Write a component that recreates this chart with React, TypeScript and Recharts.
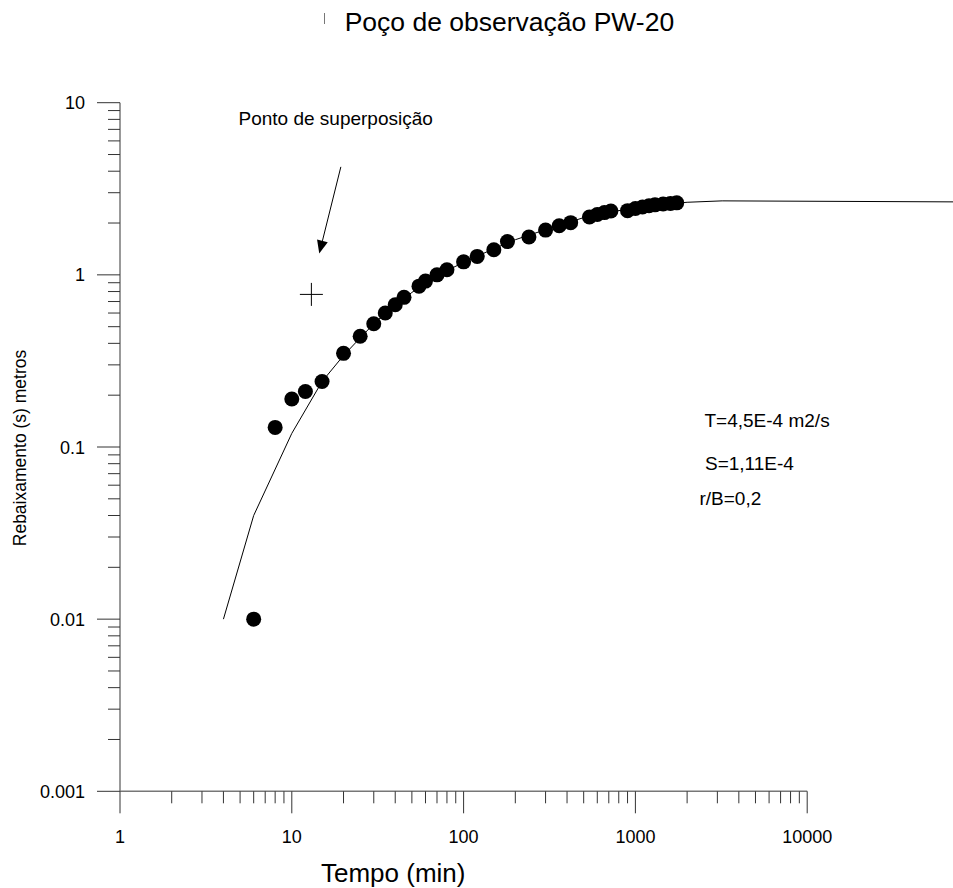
import React from 'react';
import { ComposedChart, Scatter, XAxis, YAxis, ReferenceLine } from 'recharts';

// Theoretical (Hantush) type curve
const curveTimes = [4, 6, 10, 15, 20, 25, 30, 40, 50, 60, 80, 100, 150, 200, 300, 500, 700, 1000, 1500, 2000, 3200, 100000];
const curveDrawdowns = [0.01, 0.04, 0.12, 0.24, 0.34, 0.43, 0.52, 0.67, 0.79, 0.9, 1.06, 1.18, 1.42, 1.6, 1.83, 2.15, 2.32, 2.43, 2.58, 2.64, 2.69, 2.65];

// Observed drawdowns, well PW-20
const obsTimes = [6, 8, 10, 12, 15, 20, 25, 30, 35, 40, 45, 55, 60, 70, 80, 100, 120, 150, 180, 240, 300, 360, 420, 540, 600, 660, 720, 900, 1000, 1100, 1200, 1300, 1450, 1600, 1740];
const obsDrawdowns = [0.01, 0.13, 0.19, 0.21, 0.24, 0.35, 0.44, 0.52, 0.6, 0.67, 0.74, 0.86, 0.92, 1.0, 1.07, 1.19, 1.28, 1.4, 1.56, 1.66, 1.82, 1.93, 2.01, 2.17, 2.24, 2.3, 2.35, 2.36, 2.43, 2.48, 2.52, 2.55, 2.58, 2.6, 2.62];

// Match point and arrow
const matchTime = [13];
const matchDrawdown = [0.77];
const arrowTimes = [19.3, 14.45];
const arrowDrawdowns = [4.24, 1.33];

const xMajorTicks = [1, 10, 100, 1000, 10000];
const yMajorTicks = [0.001, 0.01, 0.1, 1, 10];
const minorMultipliers = [2, 3, 4, 5, 6, 7, 8, 9];

const titleText = 'Poço de observação PW-20';
const xLabel = 'Tempo (min)';
const yLabel = 'Rebaixamento (s) metros';
const annotationText = 'Ponto de superposição';
const paramTexts = ['T=4,5E-4 m2/s', 'S=1,11E-4', 'r/B=0,2'];

const curveData = curveTimes.map((t, i) => ({ t, s: curveDrawdowns[i] }));
const obsData = obsTimes.map((t, i) => ({ t, s: obsDrawdowns[i] }));
const matchData = matchTime.map((t, i) => ({ t, s: matchDrawdown[i] }));

const buildTicks = (majors: number[]) => {
  const out: number[] = [];
  majors.forEach((m, i) => {
    out.push(m);
    if (i < majors.length - 1) minorMultipliers.forEach((k) => out.push(parseFloat((m * k).toPrecision(6))));
  });
  return out;
};
const xTicks = buildTicks(xMajorTicks);
const yTicks = buildTicks(yMajorTicks);

const isMajor = (v: number) => {
  const l = Math.log10(v);
  return Math.abs(l - Math.round(l)) < 1e-9;
};

const FONT = '"Liberation Sans", Arial, Helvetica, sans-serif';

const XTick = (props: any) => {
  const { x, y, payload } = props;
  const v = payload.value;
  const major = isMajor(v);
  return (
    <g>
      <line x1={x} y1={y} x2={x} y2={y + (major ? 22 : 12)} stroke="#333" strokeWidth={1} />
      {major && (
        <text x={x} y={y + 51.5} textAnchor="middle" fontSize={18} fill="#000" fontFamily={FONT}>
          {String(v)}
        </text>
      )}
    </g>
  );
};

const YTick = (props: any) => {
  const { x, y, payload } = props;
  const v = payload.value;
  const major = isMajor(v);
  return (
    <g>
      <line x1={x - (major ? 23 : 12)} y1={y} x2={x} y2={y} stroke="#333" strokeWidth={1} />
      {major && (
        <text x={x - 35} y={y + 6.5} textAnchor="end" fontSize={18} fill="#000" fontFamily={FONT}>
          {String(v)}
        </text>
      )}
    </g>
  );
};

const Dot = (props: any) => <circle cx={props.cx} cy={props.cy} r={7.5} fill="#000" />;
const Cross = (props: any) => (
  <g>
    <line x1={props.cx - 11.5} y1={props.cy} x2={props.cx + 11.5} y2={props.cy} stroke="#000" strokeWidth={1} />
    <line x1={props.cx} y1={props.cy - 11.5} x2={props.cx} y2={props.cy + 11.5} stroke="#000" strokeWidth={1} />
  </g>
);
const Nothing = () => <g />;

const ArrowShape = (props: any) => {
  const { x1, y1, x2, y2 } = props;
  const dx = x2 - x1;
  const dy = y2 - y1;
  const len = Math.sqrt(dx * dx + dy * dy) || 1;
  const ux = dx / len;
  const uy = dy / len;
  const hl = 13;
  const hw = 5.5;
  const bx = x2 - ux * hl;
  const by = y2 - uy * hl;
  const pts = `${x2},${y2} ${bx - uy * hw},${by + ux * hw} ${bx + uy * hw},${by - ux * hw}`;
  return (
    <g>
      <line x1={x1} y1={y1} x2={bx} y2={by} stroke="#000" strokeWidth={1} />
      <polygon points={pts} fill="#000" />
    </g>
  );
};

export default function App() {
  return (
    <div style={{ position: 'absolute', left: 0, top: 0, width: 953, height: 888, overflow: 'hidden', background: '#fff' }}>
      <ComposedChart
        width={1000}
        height={888}
        margin={{ top: 102.7, right: 21, bottom: 95.7, left: 119 }}
        style={{ fontFamily: FONT }}
      >
        <XAxis
          dataKey="t"
          type="number"
          scale="log"
          domain={[1, 100000]}
          allowDataOverflow
          ticks={xTicks}
          interval={0}
          tick={XTick}
          tickSize={0}
          tickMargin={0}
          tickLine={false}
          axisLine={false}
          height={1}
        />
        <YAxis
          dataKey="s"
          type="number"
          scale="log"
          domain={[0.001, 10]}
          allowDataOverflow
          ticks={yTicks}
          interval={0}
          tick={YTick}
          tickSize={0}
          tickMargin={0}
          tickLine={false}
          axisLine={{ stroke: '#777', strokeWidth: 1.5 }}
          width={1}
        />
        <ReferenceLine
          segment={[{ x: xMajorTicks[0], y: yMajorTicks[0] }, { x: xMajorTicks[xMajorTicks.length - 1], y: yMajorTicks[0] }]}
          stroke="#777"
          strokeWidth={1.5}
          ifOverflow="visible"
        />
        <Scatter data={curveData} dataKey="s" line={{ stroke: '#000', strokeWidth: 1 }} shape={Nothing} isAnimationActive={false} />
        <Scatter data={obsData} dataKey="s" shape={Dot} isAnimationActive={false} />
        <Scatter data={matchData} dataKey="s" shape={Cross} isAnimationActive={false} />
        <ReferenceLine
          segment={[{ x: arrowTimes[0], y: arrowDrawdowns[0] }, { x: arrowTimes[1], y: arrowDrawdowns[1] }]}
          shape={ArrowShape}
          ifOverflow="visible"
        />
      </ComposedChart>
      <svg width={953} height={888} style={{ position: 'absolute', left: 0, top: 0, pointerEvents: 'none' }} fontFamily={FONT}>
        <line x1={324.5} y1={13} x2={324.5} y2={24} stroke="#777" strokeWidth={1} />
        <text x={344.7} y={30.7} fontSize={26.5} fill="#000">{titleText}</text>
        <text x={238.5} y={125} fontSize={19} fill="#000">{annotationText}</text>
        <text x={704.5} y={427} fontSize={19} fill="#000">{paramTexts[0]}</text>
        <text x={705} y={470} fontSize={19} fill="#000">{paramTexts[1]}</text>
        <text x={699.5} y={505} fontSize={19} fill="#000">{paramTexts[2]}</text>
        <text x={321} y={882} fontSize={26} fill="#000">{xLabel}</text>
        <text x={26} y={448} fontSize={17.5} fill="#000" textAnchor="middle" transform="rotate(-90 26 448)">{yLabel}</text>
      </svg>
    </div>
  );
}
